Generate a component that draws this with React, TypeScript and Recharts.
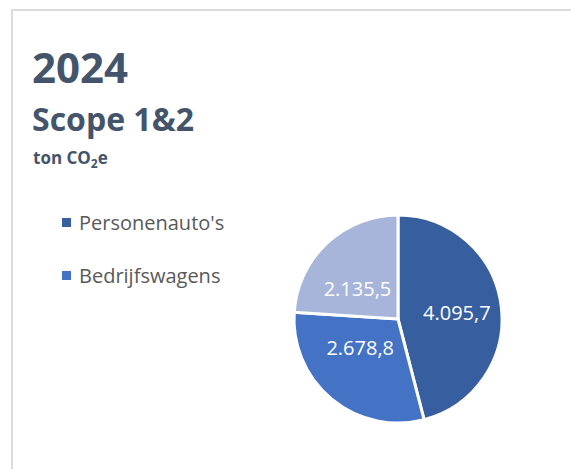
import React from 'react'
import { PieChart, Pie, Cell } from 'recharts'

const categories = ["Personenauto's", 'Bedrijfswagens', 'Overige']
const values = [4095.7, 2678.8, 2135.5]
const colors = ['#375e9f', '#4472c4', '#a7b5da']

// the legend box in the source only has room for two rows
const legendRows = 2

const data = categories.map((name, i) => ({ name, value: values[i] }))

const FONT = '"Open Sans", "Noto Sans", sans-serif'
const RAD = Math.PI / 180

const fmt = (v: number) =>
  v.toLocaleString('de-DE', { minimumFractionDigits: 1, maximumFractionDigits: 1 })

// inside labels, pulled towards the centre vertically like the office chart does
const renderLabel = ({ cx, cy, midAngle, outerRadius, value }: any) => {
  const x = cx + outerRadius * 0.57 * Math.cos(-midAngle * RAD)
  const y = cy + outerRadius * 0.38 * Math.sin(-midAngle * RAD) - 2
  return (
    <text
      x={x}
      y={y}
      fill="#ffffff"
      textAnchor="middle"
      dominantBaseline="central"
      style={{ fontFamily: FONT, fontSize: 20 }}
    >
      {fmt(value)}
    </text>
  )
}

export default function App() {
  return (
    <div
      style={{
        position: 'absolute',
        left: 0,
        top: 0,
        width: 571,
        height: 469,
        background: '#fff',
        overflow: 'hidden',
      }}
    >
      <div
        style={{
          position: 'absolute',
          left: 11,
          top: 9,
          width: 600,
          height: 500,
          borderTop: '2px solid #dcdcdc',
          borderLeft: '2px solid #dcdcdc',
        }}
      />
      <svg width={571} height={200} style={{ position: 'absolute', left: 0, top: 0 }}>
        <g fill="#44546a" fontFamily={FONT} fontWeight="bold">
          <text x={32} y={83} fontSize={42}>2024</text>
          <text x={32} y={131} fontSize={32}>Scope 1&amp;2</text>
          <text x={33} y={164} fontSize={17}>
            ton CO
            <tspan fontSize={12} dy={4}>2</tspan>
            <tspan dy={-4}>e</tspan>
          </text>
        </g>
      </svg>
      <div
        style={{
          position: 'absolute',
          left: 62,
          top: 196,
          width: 220,
          fontFamily: FONT,
          fontSize: 20,
          color: '#595959',
        }}
      >
        {categories.slice(0, legendRows).map((c, i) => (
          <div key={c} style={{ display: 'flex', alignItems: 'center', height: 53, lineHeight: '20px' }}>
            <span
              style={{ width: 9, height: 9, background: colors[i], display: 'inline-block', marginRight: 8 }}
            />
            <span>{c}</span>
          </div>
        ))}
      </div>
      <div style={{ position: 'absolute', left: 0, top: 0 }}>
        <PieChart width={571} height={469} margin={{ top: 0, right: 0, bottom: 0, left: 0 }}>
          <Pie
            data={data}
            dataKey="value"
            nameKey="name"
            cx={398}
            cy={319}
            outerRadius={104}
            startAngle={90}
            endAngle={-270}
            stroke="#ffffff"
            strokeWidth={3}
            labelLine={false}
            label={renderLabel}
            isAnimationActive={false}
          >
            {data.map((d, i) => (
              <Cell key={d.name} fill={colors[i]} />
            ))}
          </Pie>
        </PieChart>
      </div>
    </div>
  )
}
